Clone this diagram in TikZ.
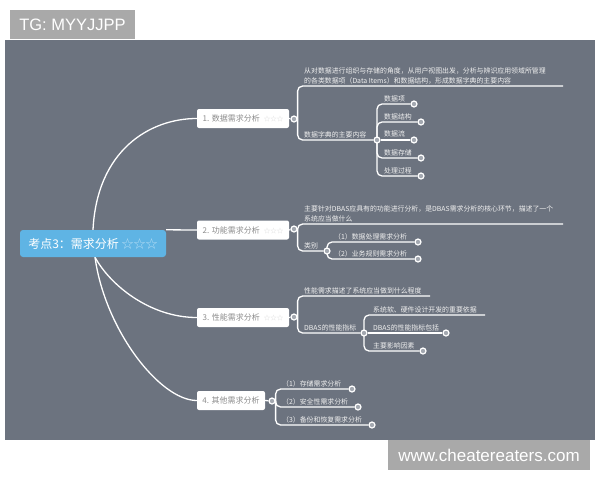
\documentclass[tikz,border=0pt]{standalone}
\usepackage{fontspec}
\newfontfamily\cjk{Noto Sans CJK SC}
\newfontfamily\lsans{Liberation Sans}
\definecolor{panel}{HTML}{6C737F}
\definecolor{wm}{HTML}{A9A9A9}
\definecolor{rootblue}{HTML}{5FB4E4}
\definecolor{rootstar}{HTML}{B5DDF5}
\definecolor{btext}{HTML}{8C8C8C}
\definecolor{bstar}{HTML}{D9D9D9}
\definecolor{dotfill}{HTML}{A3A8B0}
\definecolor{ltext}{HTML}{F0F0F0}
\pgfdeclarelayer{front}
\pgfsetlayers{main,front}
\begin{document}
\begin{tikzpicture}[x=1pt,y=-1pt,
 line/.style={draw=white, line width=1.3pt},
 elbow/.style={line, rounded corners=5pt},
 rootbox/.style={fill=rootblue, rounded corners=3pt, text=white, font=\cjk\fontsize{12}{14}\selectfont, minimum width=146pt, minimum height=27pt, inner sep=0pt},
 branch/.style={fill=white, rounded corners=2pt, text=btext, font=\cjk\fontsize{8}{10}\selectfont, minimum height=19pt, inner sep=0pt},
 dot/.style={circle, draw=white, fill=dotfill, line width=1.2pt, minimum size=6pt, inner sep=0pt},
 lbl/.style={anchor=south west, inner sep=0pt, text=ltext, font=\cjk\fontsize{6.9}{9.5}\selectfont, align=left},
 wmark/.style={fill=wm, text=white, font=\lsans\fontsize{16.5}{18}\selectfont, inner sep=0pt}
]
\useasboundingbox (0,0) rectangle (600,480);
\fill[white] (0,0) rectangle (600,480);
\fill[panel] (5,40) rectangle (595,440);

\begin{pgfonlayer}{front}
\node[wmark, minimum width=125pt, minimum height=29pt] (tg) at (72.5,24.5) {TG: MYYJJPP};
\node[wmark, minimum width=202pt, minimum height=30pt, font=\lsans\fontsize{17}{19}\selectfont] (site) at (489,455) {www.cheatereaters.com};

\node[rootbox] (root) at (93,243.5) {考点3：需求分析 \textcolor{rootstar}{☆☆☆}};

\node[branch, minimum width=92pt] (b1) at (243,118.5) {1. 数据需求分析\hspace{4pt}\textcolor{bstar}{\fontsize{6.5}{8}\selectfont ☆☆☆}};
\node[branch, minimum width=92pt] (b2) at (243,230) {2. 功能需求分析\hspace{4pt}\textcolor{bstar}{\fontsize{6.5}{8}\selectfont ☆☆☆}};
\node[branch, minimum width=92pt] (b3) at (243,317.5) {3. 性能需求分析\hspace{4pt}\textcolor{bstar}{\fontsize{6.5}{8}\selectfont ☆☆☆}};
\node[branch, minimum width=68pt] (b4) at (231,400.5) {4. 其他需求分析};

% dots
\node[dot] (c1) at (294,119) {};
\node[dot] (d1) at (377,140) {};
\node[dot] (s11) at (414,104) {};
\node[dot] (s12) at (421,122) {};
\node[dot] (s13) at (414,140) {};
\node[dot] (s14) at (421,158) {};
\node[dot] (s15) at (421,176) {};
\node[dot] (c2) at (294,229) {};
\node[dot] (d2) at (327,251) {};
\node[dot] (s21) at (418,242) {};
\node[dot] (s22) at (418,259) {};
\node[dot] (c3) at (294,317) {};
\node[dot] (d3) at (364,333) {};
\node[dot] (s32) at (446,333) {};
\node[dot] (s33) at (423,351) {};
\node[dot] (c4) at (272,401) {};
\node[dot] (s41) at (352,389) {};
\node[dot] (s42) at (358,407) {};
\node[dot] (s43) at (372,425) {};

% labels
\node[lbl] (t1) at (304,84) {从对数据进行组织与存储的角度，从用户视图出发，分析与辨识应用领域所管理\\的各类数据项（Data Items）和数据结构，形成数据字典的主要内容};
\node[lbl] (t12) at (304,138) {数据字典的主要内容};
\node[lbl] (t121) at (384,102) {数据项};
\node[lbl] (t122) at (384,120) {数据结构};
\node[lbl] (t123) at (384,137) {数据流};
\node[lbl] (t124) at (384,156) {数据存储};
\node[lbl] (t125) at (384,174) {处理过程};
\node[lbl] (t2) at (304,222) {主要针对DBAS应具有的功能进行分析，是DBAS需求分析的核心环节，描述了一个\\系统应当做什么};
\node[lbl] (t22) at (304,249) {类别};
\node[lbl] (t221) at (334,240) {（1）数据处理需求分析};
\node[lbl] (t222) at (334,257) {（2）业务规则需求分析};
\node[lbl] (t3) at (304,294) {性能需求描述了系统应当做到什么程度};
\node[lbl] (t32) at (304,331) {DBAS的性能指标};
\node[lbl] (t321) at (373,313) {系统软、硬件设计开发的重要依据};
\node[lbl] (t322) at (373,331) {DBAS的性能指标包括};
\node[lbl] (t323) at (373,349) {主要影响因素};
\node[lbl] (t41) at (282,387) {（1）存储需求分析};
\node[lbl] (t42) at (282,405) {（2）安全性需求分析};
\node[lbl] (t43) at (282,423) {（3）备份和恢复需求分析};
\end{pgfonlayer}

\coordinate (e1) at (563,86);
\coordinate (e2) at (563,224);
\coordinate (e3) at (430,296);
\coordinate (e31) at (485,315);

% root connectors
\draw[line] (root.north) .. controls (97,150) and (150,118.5) .. (b1.west);
\draw[line] (root.north east) -- (b2.west);
\draw[line] ([xshift=2pt]root.south) .. controls (110,285) and (150,317.5) .. (b3.west);
\draw[line] ([xshift=2pt]root.south) .. controls (105,330) and (160,400.5) .. (b4.west);

% branch 1
\draw[line] (b1.east) -- (c1);
\draw[elbow] (c1.east) |- (e1);
\draw[elbow] (c1.east) |- (d1);
\draw[elbow] (d1.center) |- (s11);
\draw[elbow] (d1.center) |- (s12);
\draw[line] (d1) -- (s13);
\draw[elbow] (d1.center) |- (s14);
\draw[elbow] (d1.center) |- (s15);

% branch 2
\draw[line] (b2.east) -- (c2);
\draw[elbow] (c2.east) |- (e2);
\draw[elbow] (c2.east) |- (d2);
\draw[elbow] (d2.center) |- (s21);
\draw[elbow] (d2.center) |- (s22);

% branch 3
\draw[line] (b3.east) -- (c3);
\draw[elbow] (c3.east) |- (e3);
\draw[elbow] (c3.east) |- (d3);
\draw[elbow] (d3.center) |- (e31);
\draw[line] (d3) -- (s32);
\draw[elbow] (d3.center) |- (s33);

% branch 4
\draw[line] (b4.east) -- (c4);
\draw[elbow] (c4.east) |- (s41);
\draw[elbow] (c4.east) |- (s42);
\draw[elbow] (c4.east) |- (s43);
\end{tikzpicture}
\end{document}
